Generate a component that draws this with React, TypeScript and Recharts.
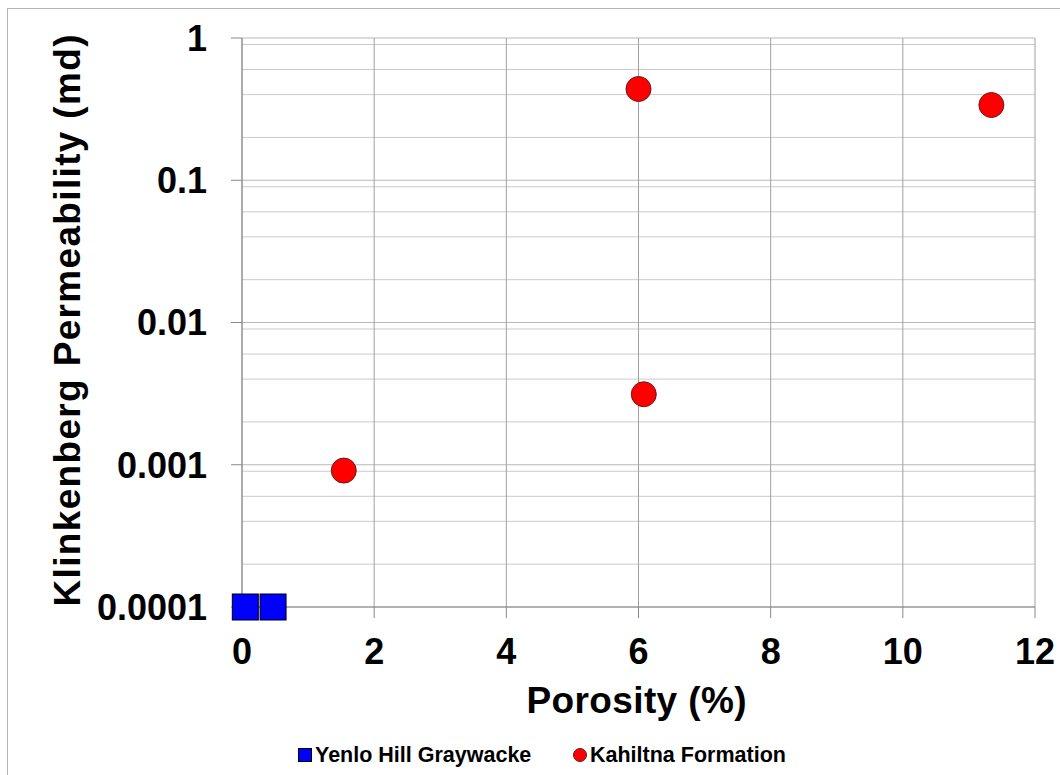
import React from "react";
import {
  CartesianGrid,
  Legend,
  Scatter,
  ScatterChart,
  XAxis,
  YAxis,
} from "recharts";

const FONT = "'Liberation Sans', Arial, Helvetica, sans-serif";

const X_TICKS = [0, 2, 4, 6, 8, 10, 12];
const Y_TICKS = [0.0001, 0.001, 0.01, 0.1, 1];
const Y_TICK_LABELS = ["0.0001", "0.001", "0.01", "0.1", "1"];
const Y_MINOR = [
  0.0002, 0.0003, 0.0004, 0.0005, 0.0006, 0.0007, 0.0008, 0.0009,
  0.002, 0.003, 0.004, 0.005, 0.006, 0.007, 0.008, 0.009,
  0.02, 0.03, 0.04, 0.05, 0.06, 0.07, 0.08, 0.09,
  0.2, 0.3, 0.4, 0.5, 0.6, 0.7, 0.8, 0.9,
];

const YENLO_POROSITY = [0.05, 0.47];
const YENLO_PERM = [0.0001, 0.0001];
const KAHILTNA_POROSITY = [1.54, 6.0, 6.08, 11.34];
const KAHILTNA_PERM = [0.00091, 0.438, 0.00313, 0.338];

const X_TITLE = "Porosity (%)";
const Y_TITLE = "Klinkenberg Permeability (md)";
const YENLO_NAME = "Yenlo Hill Graywacke";
const KAHILTNA_NAME = "Kahiltna Formation";

const yenlo = YENLO_POROSITY.map((x, i) => ({ x, y: YENLO_PERM[i] }));
const kahiltna = KAHILTNA_POROSITY.map((x, i) => ({ x, y: KAHILTNA_PERM[i] }));

const Square = (p: any) => (
  <rect x={p.cx - 13} y={p.cy - 13} width={26} height={26} fill="#0000FF" stroke="#000" strokeWidth={1} />
);

const Dot = (p: any) => (
  <circle cx={p.cx} cy={p.cy} r={12.5} fill="#FF0000" stroke="#6b1a1a" strokeWidth={1} />
);

const LEGEND_LEFT: Record<string, number> = { [YENLO_NAME]: 298, [KAHILTNA_NAME]: 573 };

function LegendContent({ payload }: any) {
  return (
    <div style={{ position: "relative", height: 20, fontFamily: FONT, fontWeight: "bold", fontSize: 21.5 }}>
      {(payload ?? []).map((item: any) => (
        <div
          key={item.value}
          style={{
            position: "absolute",
            left: LEGEND_LEFT[item.value] ?? 0,
            top: 0,
            height: 20,
            display: "flex",
            alignItems: "center",
            whiteSpace: "nowrap",
          }}
        >
          <svg width={14} height={14} style={{ marginRight: 3 }}>
            {item.value === YENLO_NAME ? (
              <rect x={0.5} y={0.5} width={13} height={13} fill="#0000FF" stroke="#000" />
            ) : (
              <circle cx={7} cy={7} r={6.5} fill="#FF0000" stroke="#6b1a1a" />
            )}
          </svg>
          <span style={{ color: "#000" }}>{item.value}</span>
        </div>
      ))}
    </div>
  );
}

const tickStyle = { fill: "#000", fontSize: 36, fontWeight: "bold", fontFamily: FONT, style: { fontFamily: FONT } };

export default function App() {
  return (
    <div style={{ position: "absolute", left: 0, top: 0, width: 1060, height: 775, background: "#fff", fontFamily: FONT }}>
      <div
        style={{
          position: "absolute",
          left: 7,
          top: 8,
          width: 1053,
          height: 767,
          borderTop: "1px solid #b4b4b4",
          borderLeft: "1px solid #b4b4b4",
          boxSizing: "border-box",
        }}
      />
      <ScatterChart
        width={1060}
        height={775}
        margin={{ top: 38, right: 25, left: 42, bottom: 28 }}
        style={{ position: "absolute", left: 0, top: 0, fontFamily: FONT }}
      >
        <CartesianGrid horizontal vertical={false} horizontalValues={Y_MINOR} stroke="#cacaca" strokeWidth={1} />
        <CartesianGrid horizontal vertical={false} horizontalValues={Y_TICKS} stroke="#b8b8b8" strokeWidth={1} />
        <CartesianGrid horizontal={false} vertical verticalValues={X_TICKS} stroke="#a0a0a0" strokeWidth={1} />
        <XAxis
          type="number"
          dataKey="x"
          domain={[0, 12]}
          ticks={X_TICKS}
          height={120}
          axisLine={{ stroke: "#888" }}
          tickLine={{ stroke: "#888" }}
          tickSize={11}
          tickMargin={20}
          tick={tickStyle}
          label={{
            value: X_TITLE,
            content: ({ viewBox }: any) => (
              <text
                x={viewBox.x + viewBox.width / 2 - 2}
                y={viewBox.y + 106}
                textAnchor="middle"
                style={{ fontFamily: FONT, fontWeight: "bold", fontSize: 37 }}
                fill="#000"
                textLength={220}
                lengthAdjust="spacing"
              >
                {X_TITLE}
              </text>
            ),
          }}
        />
        <YAxis
          type="number"
          dataKey="y"
          scale="log"
          domain={[0.0001, 1]}
          ticks={Y_TICKS}
          tickFormatter={(v: number) => Y_TICK_LABELS[Y_TICKS.indexOf(v)] ?? String(v)}
          width={200}
          axisLine={{ stroke: "#888" }}
          tickLine={{ stroke: "#888" }}
          tickSize={11}
          tickMargin={24}
          tick={tickStyle}
          label={{
            value: Y_TITLE,
            content: ({ viewBox }: any) => {
              const cx = viewBox.x + 38;
              const cy = viewBox.y + viewBox.height / 2 - 2;
              return (
                <text
                  x={cx}
                  y={cy}
                  transform={`rotate(-90 ${cx} ${cy})`}
                  textAnchor="middle"
                  style={{ fontFamily: FONT, fontWeight: "bold", fontSize: 37 }}
                  fill="#000"
                  textLength={572}
                  lengthAdjust="spacing"
                >
                  {Y_TITLE}
                </text>
              );
            },
          }}
        />
        <Scatter name={YENLO_NAME} data={yenlo} fill="#0000FF" shape={Square} isAnimationActive={false} />
        <Scatter name={KAHILTNA_NAME} data={kahiltna} fill="#FF0000" shape={Dot} isAnimationActive={false} />
        <Legend
          verticalAlign="bottom"
          content={<LegendContent />}
          wrapperStyle={{ left: 0, width: 1060, bottom: 10 }}
        />
      </ScatterChart>
    </div>
  );
}
